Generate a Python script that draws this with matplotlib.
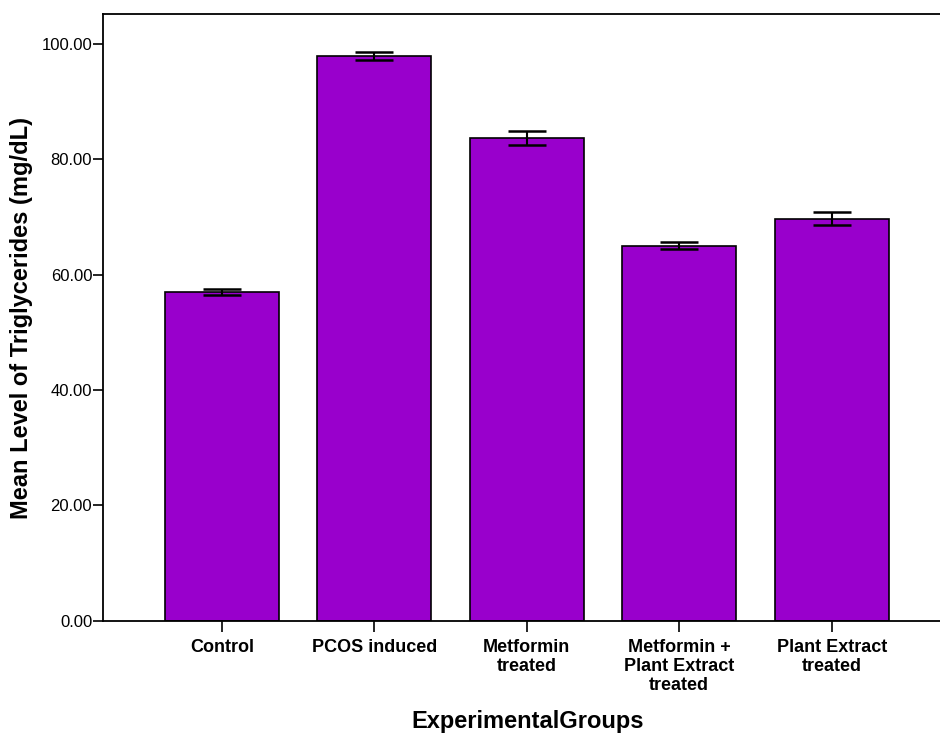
import matplotlib
matplotlib.use("Agg")
import matplotlib.pyplot as plt
import numpy as np

plt.rcParams['font.family'] = ['Liberation Sans', 'DejaVu Sans']

categories = ["Control", "PCOS induced", "Metformin\ntreated",
              "Metformin +\nPlant Extract\ntreated", "Plant Extract\ntreated"]
means = [57.0, 97.9, 83.7, 65.0, 69.7]
errors = [0.5, 0.65, 1.2, 0.65, 1.15]
yticks = [0, 20, 40, 60, 80, 100]
ytick_labels = ["0.00", "20.00", "40.00", "60.00", "80.00", "100.00"]

fig = plt.figure(figsize=(9.4, 7.34), dpi=100)
ax = fig.add_axes([0.1099, 0.1542, 1.0 - 0.1099, 0.9805 - 0.1542])

x = np.arange(len(categories))
ax.bar(x, means, width=0.748, color="#9900CC", edgecolor="black", linewidth=1.2, zorder=2)
ax.errorbar(x, means, yerr=errors, fmt="none", ecolor="black", elinewidth=1.5,
            capsize=13.5, capthick=1.8, zorder=3)

ax.set_xlim(-0.779, 4.711)
ax.set_ylim(0, 105.1)
ax.set_yticks(yticks)
ax.set_yticklabels(ytick_labels, fontsize=12)
ax.set_xticks(x)
ax.set_xticklabels(categories, fontsize=13, fontweight="bold", linespacing=1.15)

ax.tick_params(axis="y", direction="out", length=7, width=1.2, pad=1)
ax.tick_params(axis="x", direction="out", length=8, width=1.2, pad=5)

for s in ["left", "bottom", "top"]:
    ax.spines[s].set_linewidth(1.3)
ax.spines["right"].set_visible(False)

ax.set_ylabel("Mean Level of Triglycerides (mg/dL)", fontsize=17, fontweight="bold", labelpad=6)
ax.set_xlabel("ExperimentalGroups", fontsize=17, fontweight="bold")
ax.xaxis.set_label_coords(0.5076, -0.147)

fig.savefig("out.png", dpi=100)
